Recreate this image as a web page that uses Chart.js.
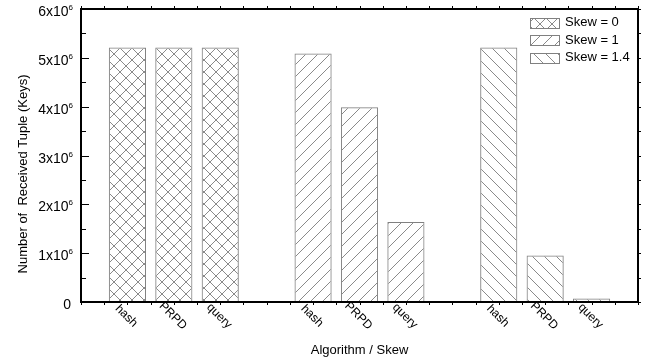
<!DOCTYPE html>
<html>
<head>
<meta charset="utf-8">
<script src="https://cdn.jsdelivr.net/npm/chart.js@4"></script>
<style>
  html, body { margin: 0; padding: 0; background: #fff; }
</style>
</head>
<body>
<canvas id="myChart" width="651" height="364"></canvas>
<script>
// values
const algorithms = ['hash', 'PRPD', 'query'];
const skewLabels = ['Skew = 0', 'Skew = 1', 'Skew = 1.4'];
const skew0 = [5.21e6, 5.21e6, 5.21e6];
const skew1 = [5.09e6, 3.99e6, 1.64e6];
const skew14 = [5.21e6, 0.95e6, 0.07e6];
const yTicks = [0, 1e6, 2e6, 3e6, 4e6, 5e6, 6e6];

const FONT = "'Liberation Sans', Arial, sans-serif";
Chart.defaults.font.family = FONT;

// x slots: blank, 3 bars, blank, 3 bars, blank, 3 bars, blank
const slotLabels = ['', ...algorithms, '', ...algorithms, '', ...algorithms, ''];

function placeGroup(group, values) {
    const arr = slotLabels.map(() => null);
    values.forEach((v, i) => { arr[1 + group * 4 + i] = v; });
    return arr;
}

const ctx = document.getElementById('myChart').getContext('2d');

function makePattern(kind) {
    const s = 12;
    const c = document.createElement('canvas');
    c.width = s; c.height = s;
    const g = c.getContext('2d');
    g.strokeStyle = '#8a8a8a';
    g.lineWidth = 1;
    g.beginPath();
    if (kind === 'fwd' || kind === 'cross') {
        g.moveTo(-1, s + 1); g.lineTo(s + 1, -1);
        g.moveTo(-1, 1); g.lineTo(1, -1);
        g.moveTo(s - 1, s + 1); g.lineTo(s + 1, s - 1);
    }
    if (kind === 'back' || kind === 'cross') {
        g.moveTo(-1, -1); g.lineTo(s + 1, s + 1);
        g.moveTo(s - 1, -1); g.lineTo(s + 1, 1);
        g.moveTo(-1, s - 1); g.lineTo(1, s + 1);
    }
    g.stroke();
    return ctx.createPattern(c, 'repeat');
}

const patterns = [makePattern('cross'), makePattern('fwd'), makePattern('back')];

// frame, ticks, rotated labels, titles and legend
const decorations = {
    id: 'decorations',
    afterDatasetsDraw(chart) {
        const { ctx, chartArea: a, scales: { x, y } } = chart;
        ctx.save();

        // box
        ctx.strokeStyle = '#000';
        ctx.lineWidth = 2;
        ctx.strokeRect(a.left, a.top, a.right - a.left, a.bottom - a.top);

        // tick marks
        ctx.lineWidth = 1;
        ctx.beginPath();
        for (let v = 0; v <= 6e6; v += 0.5e6) {
            const py = Math.round(y.getPixelForValue(v)) + 0.5;
            const major = v % 1e6 === 0;
            ctx.moveTo(a.left, py); ctx.lineTo(a.left + (major ? 8 : 5), py);
            ctx.moveTo(a.right, py); ctx.lineTo(a.right + 3, py);
        }
        for (let i = 0; i <= (slotLabels.length - 1) * 2; i++) {
            const px = Math.round(x.getPixelForValue(i / 2)) + 0.5;
            ctx.moveTo(px, a.top); ctx.lineTo(px, a.top - 3);
            ctx.moveTo(px, a.bottom); ctx.lineTo(px, a.bottom + 3);
        }
        ctx.stroke();

        // y tick labels with superscript exponent
        ctx.fillStyle = '#000';
        ctx.textBaseline = 'alphabetic';
        yTicks.forEach(v => {
            const py = y.getPixelForValue(v);
            ctx.textAlign = 'right';
            if (v === 0) {
                ctx.font = '14px ' + FONT;
                ctx.fillText('0', 71, py + 7);
                return;
            }
            ctx.font = '8px ' + FONT;
            ctx.fillText('6', 73, py + 1);
            const w = ctx.measureText('6').width;
            ctx.font = '14px ' + FONT;
            ctx.fillText((v / 1e6) + 'x10', 73 - w, py + 7);
        });

        // rotated x labels
        ctx.font = '12px ' + FONT;
        ctx.textAlign = 'center';
        ctx.textBaseline = 'middle';
        slotLabels.forEach((lab, i) => {
            if (!lab) return;
            ctx.save();
            ctx.translate(x.getPixelForValue(i) - 1, 316);
            ctx.rotate(Math.PI / 4);
            ctx.fillText(lab, 0, 0);
            ctx.restore();
        });

        // axis titles
        ctx.font = '13px ' + FONT;
        ctx.fillText('Algorithm / Skew', (a.left + a.right) / 2, 350);
        ctx.save();
        ctx.translate(23, 174);
        ctx.rotate(-Math.PI / 2);
        ctx.fillText('Number of  Received Tuple (Keys)', 0, 0);
        ctx.restore();

        // legend
        chart.data.datasets.forEach((ds, i) => {
            const cy = 22.5 + i * 17.6;
            ctx.fillStyle = ds.backgroundColor;
            ctx.fillRect(530, Math.round(cy - 5), 29, 10);
            ctx.strokeStyle = '#808080';
            ctx.lineWidth = 1;
            ctx.strokeRect(530.5, Math.round(cy - 5) + 0.5, 29, 10);
            ctx.fillStyle = '#000';
            ctx.textAlign = 'left';
            ctx.font = '13px ' + FONT;
            ctx.fillText(ds.label, 565, cy);
        });

        ctx.restore();
    }
};

const chart = new Chart(ctx, {
    type: 'bar',
    data: {
        labels: slotLabels,
        datasets: [skew0, skew1, skew14].map((vals, i) => ({
            label: skewLabels[i],
            data: placeGroup(i, vals),
            backgroundColor: patterns[i],
            borderColor: '#808080',
            borderWidth: 1,
            grouped: false,
            categoryPercentage: 1,
            barPercentage: 0.8
        }))
    },
    options: {
        responsive: false,
        animation: false,
        layout: { padding: { top: 9, right: 13, left: 0, bottom: 0 } },
        plugins: {
            legend: { display: false },
            tooltip: { enabled: false }
        },
        scales: {
            x: {
                type: 'category',
                offset: false,
                grid: { display: false, drawTicks: false },
                border: { display: false },
                ticks: { display: false },
                afterFit: s => { s.height = 62; }
            },
            y: {
                min: 0,
                max: 6e6,
                grid: { display: false, drawTicks: false },
                border: { display: false },
                ticks: { display: false, stepSize: 1e6 },
                afterFit: s => { s.width = 81; }
            }
        }
    },
    plugins: [decorations]
});
</script>
</body>
</html>
